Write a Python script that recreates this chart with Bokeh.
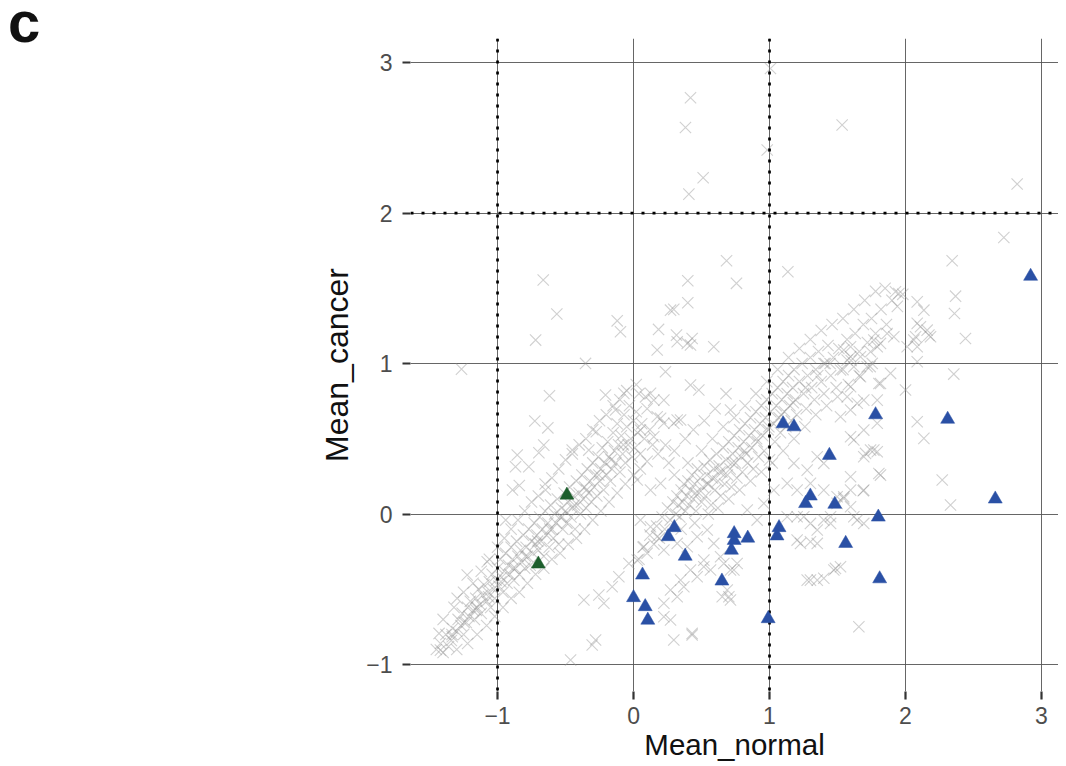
from bokeh.plotting import figure
from bokeh.models import Range1d, FixedTicker, Span, Div
from bokeh.layouts import row
from bokeh.embed import file_html
from bokeh.resources import INLINE

# ---------------- data ----------------
x_ticks = [-1, 0, 1, 2, 3]
y_ticks = [-1, 0, 1, 2, 3]
tick_labels = {-1: "\u22121", 0: "0", 1: "1", 2: "2", 3: "3"}
v_thresholds = [-1, 1]
h_thresholds = [2]
panel_letter = "c"

# grey "x" points: lower-left diagonal cloud
gray_band1 = [
    (-1.45, -0.90), (-1.42, -0.86), (-1.40, -0.92), (-1.38, -0.80), (-1.36, -0.88), (-1.34, -0.84), (-1.33, -0.76),
    (-1.30, -0.78), (-1.29, -0.70), (-1.27, -0.74), (-1.26, -0.66), (-1.25, -0.80), (-1.23, -0.72), (-1.22, -0.62),
    (-1.21, -0.68), (-1.20, -0.58), (-1.18, -0.64), (-1.17, -0.70), (-1.16, -0.56), (-1.15, -0.62), (-1.14, -0.50),
    (-1.13, -0.60), (-1.12, -0.66), (-1.11, -0.54), (-1.10, -0.47), (-1.08, -0.58), (-1.07, -0.52), (-1.06, -0.45),
    (-1.05, -0.62), (-1.04, -0.40), (-1.03, -0.50), (-1.02, -0.56), (-1.01, -0.44), (-1.00, -0.36), (-0.99, -0.48),
    (-0.98, -0.30), (-0.97, -0.42), (-0.96, -0.52), (-0.95, -0.38), (-0.94, -0.26), (-0.93, -0.46), (-0.92, -0.34),
    (-0.91, -0.40), (-0.90, -0.22), (-0.89, -0.30), (-0.88, -0.44), (-0.87, -0.36), (-0.86, -0.18), (-0.85, -0.28),
    (-0.84, -0.40), (-0.83, -0.24), (-0.82, -0.32), (-0.81, -0.14), (-0.80, -0.36), (-0.79, -0.22), (-0.78, -0.28),
    (-0.77, -0.10), (-0.76, -0.34), (-0.75, -0.18), (-0.74, -0.26), (-0.73, -0.06), (-0.72, -0.20), (-0.71, -0.14),
    (-0.70, -0.24), (-0.69, -0.02), (-0.68, -0.18), (-0.67, -0.10), (-0.66, -0.28), (-0.65, 0.02), (-0.64, -0.14),
    (-0.63, -0.06), (-0.62, -0.22), (-0.61, 0.06), (-0.60, -0.10), (-0.59, -0.16), (-0.58, 0.00), (-0.57, -0.06),
    (-0.56, 0.10), (-0.55, -0.20), (-0.54, -0.02), (-0.53, 0.04), (-0.52, -0.10), (-0.51, 0.14), (-0.50, 0.02),
    (-0.49, -0.06), (-0.48, 0.08), (-0.47, 0.18), (-0.46, -0.02), (-0.45, 0.04), (-0.44, 0.12), (-0.43, -0.10),
    (-0.42, 0.22), (-0.41, 0.06), (-0.40, 0.14), (-0.39, 0.00), (-0.38, 0.26), (-0.37, 0.10), (-0.36, 0.18),
    (-0.35, 0.04), (-0.34, 0.30), (-0.33, 0.14), (-0.32, 0.22), (-0.31, 0.08), (-0.30, 0.34), (-0.29, 0.18),
    (-0.28, 0.26), (-0.27, 0.12), (-0.26, 0.38), (-0.25, 0.22), (-0.24, 0.30), (-0.23, 0.44), (-0.22, 0.16),
    (-0.21, 0.34), (-0.20, 0.26), (-0.19, 0.48), (-0.18, 0.38), (-0.17, 0.22), (-0.16, 0.30), (-0.15, 0.54),
    (-0.14, 0.42), (-0.13, 0.34), (-0.12, 0.60), (-0.11, 0.46), (-0.10, 0.28), (-0.09, 0.52), (-0.08, 0.40),
    (-0.07, 0.66), (-0.06, 0.34), (-0.05, 0.58), (-0.04, 0.46), (-0.03, 0.72), (-0.02, 0.50), (-0.01, 0.38),
    (0.00, 0.62), (0.01, 0.44), (0.02, 0.68), (0.03, 0.54), (0.04, 0.80), (0.05, 0.40), (0.06, 0.60),
    (0.08, 0.50), (0.10, 0.70), (0.12, 0.56), (0.14, 0.46),
    # outer edges and core of the same cloud
    (-1.40, -0.70), (-1.32, -0.62), (-1.25, -0.52), (-1.18, -0.46), (-1.12, -0.38), (-1.06, -0.30), (-1.00, -0.22),
    (-0.95, -0.16), (-0.90, -0.10), (-0.85, -0.04), (-0.80, 0.02), (-0.75, 0.08), (-0.70, 0.12), (-0.65, 0.20),
    (-0.60, 0.24), (-0.55, 0.30), (-0.50, 0.36), (-0.45, 0.40), (-0.40, 0.46), (-0.35, 0.50), (-0.30, 0.56),
    (-0.25, 0.62), (-0.20, 0.66), (-0.15, 0.72), (-0.10, 0.76), (-0.05, 0.82), (0.02, 0.86),
    (-1.30, -0.90), (-1.22, -0.86), (-1.15, -0.80), (-1.08, -0.74), (-1.02, -0.68), (-0.96, -0.62), (-0.90, -0.56),
    (-0.84, -0.52), (-0.78, -0.46), (-0.72, -0.40), (-0.66, -0.36), (-0.60, -0.30), (-0.54, -0.26), (-0.48, -0.20),
    (-0.42, -0.16), (-0.36, -0.10), (-0.30, -0.04), (-0.24, 0.02), (-0.18, 0.08), (-0.12, 0.14), (-0.06, 0.20),
    (0.00, 0.26), (0.05, 0.30),
    (-1.335, -0.80), (-1.245, -0.72), (-1.155, -0.64), (-1.065, -0.55), (-0.975, -0.45), (-0.885, -0.36),
    (-0.795, -0.28), (-0.705, -0.18), (-0.615, -0.10), (-0.525, -0.02), (-0.435, 0.06), (-0.345, 0.16),
    (-0.255, 0.26), (-0.165, 0.36), (-0.075, 0.46),
]

# grey "x" points: second (right) diagonal cloud
gray_band2 = [
    (0.04, -0.30), (0.07, -0.22), (0.10, -0.26), (0.12, -0.14), (0.15, -0.20), (0.17, -0.08), (0.19, -0.16),
    (0.21, -0.02), (0.23, -0.10), (0.25, 0.04), (0.27, -0.04), (0.29, 0.08), (0.31, 0.00), (0.32, 0.12),
    (0.33, 0.06), (0.34, -0.02), (0.35, 0.16), (0.36, 0.08), (0.37, 0.20), (0.38, 0.02), (0.39, 0.12),
    (0.40, 0.22), (0.41, 0.06), (0.42, 0.16), (0.43, 0.26), (0.44, 0.10), (0.45, 0.20), (0.46, 0.02),
    (0.47, 0.30), (0.48, 0.14), (0.49, 0.24), (0.50, 0.08), (0.51, 0.18), (0.52, 0.32), (0.53, 0.12),
    (0.54, 0.26), (0.55, 0.20), (0.56, 0.36), (0.57, 0.06), (0.58, 0.24), (0.59, 0.30), (0.60, 0.16),
    (0.61, 0.40), (0.62, 0.22), (0.63, 0.32), (0.64, 0.12), (0.65, 0.28), (0.66, 0.44), (0.67, 0.20),
    (0.68, 0.36), (0.69, 0.26), (0.70, 0.48), (0.71, 0.30), (0.72, 0.18), (0.73, 0.40), (0.74, 0.52),
    (0.75, 0.34), (0.76, 0.24), (0.77, 0.44), (0.78, 0.56), (0.79, 0.38), (0.80, 0.28), (0.81, 0.48),
    (0.82, 0.60), (0.83, 0.40), (0.84, 0.34), (0.85, 0.52), (0.86, 0.64), (0.87, 0.44), (0.88, 0.30),
    (0.89, 0.56), (0.90, 0.68), (0.91, 0.48), (0.92, 0.38), (0.93, 0.60), (0.94, 0.72), (0.95, 0.52),
    (0.96, 0.42), (0.97, 0.64), (0.98, 0.76), (0.99, 0.56), (1.00, 0.36), (1.01, 0.68), (1.02, 0.80),
    (1.03, 0.60), (1.04, 0.48), (1.05, 0.72), (1.06, 0.84), (1.07, 0.64), (1.08, 0.54), (1.09, 0.76),
    (1.10, 0.88), (1.11, 0.68), (1.12, 0.58), (1.13, 0.80), (1.14, 0.92), (1.15, 0.72), (1.16, 0.62),
    (1.17, 0.84), (1.18, 0.96), (1.19, 0.76), (1.20, 0.66), (1.22, 0.88), (1.24, 1.00), (1.25, 0.80),
    (1.27, 0.70), (1.28, 0.92), (1.30, 1.04), (1.31, 0.84), (1.33, 0.76), (1.34, 0.96), (1.36, 1.08),
    (1.38, 0.88), (1.40, 0.80), (1.41, 1.00), (1.43, 1.12), (1.45, 0.92), (1.47, 1.04), (1.49, 0.84),
    (1.51, 1.10), (1.54, 0.96), (1.57, 1.16), (1.60, 1.02), (1.63, 1.20), (1.66, 1.08), (1.69, 1.26),
    (1.72, 1.14), (1.75, 1.30), (1.78, 1.20), (1.82, 1.36), (1.86, 1.26), (1.90, 1.42), (1.94, 1.38),
    (1.98, 1.46),
    # outer edges and core of the same cloud
    (0.30, 0.26), (0.40, 0.34), (0.50, 0.42), (0.58, 0.50), (0.66, 0.58), (0.74, 0.64), (0.82, 0.72),
    (0.90, 0.80), (0.98, 0.88), (1.06, 0.96), (1.14, 1.04), (1.22, 1.10), (1.30, 1.16), (1.38, 1.22),
    (1.46, 1.26), (1.54, 1.30), (1.62, 1.36), (1.70, 1.42), (1.78, 1.48), (1.85, 1.50),
    (0.35, -0.10), (0.45, -0.06), (0.55, 0.00), (0.62, 0.04), (0.70, 0.10), (0.78, 0.16), (0.86, 0.22),
    (0.94, 0.28), (1.02, 0.34), (1.10, 0.42), (1.18, 0.50), (1.26, 0.58), (1.34, 0.66), (1.42, 0.72),
    (1.50, 0.78), (1.58, 0.86), (1.66, 0.92), (1.74, 0.98),
    (0.455, 0.14), (0.545, 0.20), (0.635, 0.28), (0.725, 0.34), (0.815, 0.42), (0.905, 0.50), (0.995, 0.58),
    (1.085, 0.66), (1.175, 0.74), (1.265, 0.84), (1.355, 0.92), (1.445, 1.00),
]

# grey "x" points: scattered ones
gray_scatter = [
    (-0.664, 1.555), (-0.564, 1.329), (-0.12, 1.284), (-0.096, 1.211), (-0.72, 1.156), (-0.353, 1.001),
    (-1.265, 0.963), (-0.618, 0.786), (-0.206, 0.791), (-0.071, 0.802), (-0.132, 0.691), (-0.726, 0.618),
    (-0.63, 0.573), (-0.274, 0.547), (-0.855, 0.392), (-0.696, 0.407), (-0.66, 0.458), (-0.451, 0.425),
    (-0.329, 0.425), (-0.868, 0.314), (-0.77, 0.314), (-0.89, 0.16), (-0.84, 0.19), (-0.647, 0.16),
    (-0.94, -0.04), (-1.076, -0.317), (-1.223, -0.405), (-1.297, -0.56), (-1.43, -0.793), (-1.42, -0.904),
    (-1.333, -0.815), (-0.279, -0.837), (-0.304, -0.87), (-0.463, -0.97), (-0.365, -0.571), (-0.218, -0.593),
    (-0.255, -0.538), (-0.108, -0.416), (-0.034, -0.328), (-0.157, -0.483),
    (0.174, 1.09), (0.235, 0.946), (0.419, 0.857), (0.48, 0.824), (0.59, 1.112), (0.321, 1.145),
    (0.395, 1.134), (0.199, 0.636), (0.321, 0.625), (0.235, 0.458), (0.088, 0.779), (0.149, 0.757),
    (0.051, 0.558), (0.149, 0.514), (0.296, -0.837), (0.431, -0.793), (0.652, -0.549), (0.701, -0.549),
    (0.517, -0.306), (0.738, -0.372), (0.684, 1.683), (1.135, 1.61), (0.399, 1.55), (0.757, 1.533),
    (0.399, 1.404), (0.272, 1.355), (0.296, 1.36), (0.184, 1.227), (0.316, 1.189), (0.431, 1.167),
    (0.419, 1.123), (0.125, 0.802), (0.223, 0.757), (0.296, 0.603), (0.346, 0.625), (0.174, 0.647),
    (0.223, 0.603), (1.40, 1.0), (1.546, 1.09), (1.596, 1.045),
    (1.926, 1.477), (1.951, 1.466), (2.086, 1.41), (2.135, 1.355), (2.368, 1.448), (2.36, 1.333),
    (2.441, 1.167), (2.343, 1.683), (2.723, 1.838), (2.086, 1.267), (2.159, 1.222), (2.184, 1.178),
    (2.061, 1.156), (1.865, 1.2), (1.914, 1.178), (1.816, 1.134), (2.086, 1.112), (2.086, 1.012),
    (2.355, 0.93), (1.89, 0.935), (1.816, 0.868), (2.0, 0.824), (2.086, 0.613), (2.135, 0.503),
    (2.27, 0.226), (2.331, 0.06), (1.596, 0.514), (1.693, 0.558), (1.792, 0.603), (1.743, 0.425),
    (1.792, 0.414), (1.693, 0.381), (1.816, 0.259), (1.693, 0.159), (1.546, 0.115), (1.596, 0.159),
    (1.228, -0.195), (1.351, -0.195), (1.301, -0.439), (1.399, -0.427), (1.485, -0.361), (1.657, -0.749),
    (1.203, -0.018), (1.301, -0.062), (1.399, -0.04), (1.497, 0.071), (1.596, 0.049), (1.645, -0.04),
    (1.693, -0.062), (1.522, 0.647), (1.596, 0.691), (1.645, 0.736), (1.596, 0.248), (1.351, 0.381),
    (1.399, 0.337), (1.277, 0.292), (1.179, 0.337), (1.301, 0.204), (1.399, 0.159), (1.497, 0.115),
    (0.713, 0.691), (2.11, 1.245), (2.074, 1.178), (2.172, 1.189), (2.012, 1.112), (1.767, 1.156),
    (1.792, 1.112), (1.743, 1.079), (1.669, 1.045), (1.596, 1.112), (1.571, 1.023), (1.62, 0.979),
    (1.718, 0.979), (1.755, 1.001), (1.522, 0.957), (1.596, 0.846), (1.669, 0.913), (1.804, 0.868),
    (1.571, 0.779), (1.693, 0.757), (1.792, 0.757), (1.62, 0.492), (1.767, 0.425), (1.706, 0.403),
    (1.804, 0.27), (1.689, 0.155), (1.546, 0.104), (1.62, -0.018), (1.522, -0.35),
    (0.419, 2.766), (0.382, 2.569), (1.007, 2.961), (0.983, 2.419), (1.534, 2.585), (0.512, 2.235),
    (0.407, 2.126), (2.821, 2.193),
    (0.051, -0.04), (0.125, -0.084), (0.174, -0.151), (0.076, -0.217), (0.027, -0.306), (0.223, -0.239),
    (0.321, -0.195), (0.395, -0.217), (0.468, -0.151), (0.542, -0.106), (0.59, -0.195), (0.64, -0.284),
    (0.517, -0.35), (0.419, -0.372), (0.346, -0.439), (0.272, -0.505), (0.223, -0.593), (0.321, -0.549),
    (0.37, -0.483), (0.468, -0.416), (0.566, -0.372), (0.664, -0.328), (0.713, -0.372), (0.762, -0.328),
    (0.713, -0.571), (0.689, -0.505), (0.431, -0.804), (0.223, -0.682), (0.272, -0.704), (1.203, -0.173),
    (1.301, -0.184), (1.351, -0.106), (1.449, -0.062), (1.351, -0.439), (1.473, -0.372), (1.277, -0.439),
    (1.13, -0.018), (1.252, -0.018), (1.449, -0.018), (0.027, 0.226), (0.125, 0.159), (0.199, 0.204),
    (0.836, 0.027), (0.909, -0.04), (0.958, 0.071), (1.032, 0.159), (1.13, 0.204), (1.203, 0.159),
    (0.10, 0.35), (0.18, 0.40), (0.26, 0.34), (0.30, 0.42), (0.38, 0.50), (0.44, 0.56), (0.52, 0.62),
    (0.60, 0.70), (0.68, 0.80),
]

# blue triangles
blue_x = [2.92, 1.78, 2.31, 1.10, 1.18, 1.44, 1.30, 1.265, 1.48, 2.66, 1.80, 0.30, 0.255, 0.74,
          0.74, 0.72, 0.84, 1.07, 1.055, 1.56, 0.38, 0.066, 0.65, 0.0, 0.086, 0.105, 0.99, 1.81]
blue_y = [1.58, 0.66, 0.63, 0.60, 0.58, 0.39, 0.12, 0.07, 0.065, 0.10, -0.02, -0.09, -0.15, -0.13,
          -0.175, -0.24, -0.16, -0.09, -0.145, -0.195, -0.28, -0.405, -0.445, -0.555, -0.615, -0.705, -0.695, -0.43]

# green triangles
green_x = [-0.49, -0.70]
green_y = [0.126, -0.332]

# ---------------- plot ----------------
FONT = "Liberation Sans"
gray_pts = gray_band1 + gray_band2 + gray_scatter
gx = [p[0] for p in gray_pts]
gy = [p[1] for p in gray_pts]

LETTER_W = 60
p = figure(
    frame_width=648, frame_height=653,
    x_range=Range1d(-1.64, 3.125), y_range=Range1d(-1.179, 3.16),
    output_backend="svg", toolbar_location=None,
    min_border_left=410 - LETTER_W, min_border_top=38, min_border_right=0, min_border_bottom=66,
)
p.outline_line_color = None
p.background_fill_color = "white"
p.border_fill_color = "white"

for ax, ticks in ((p.xaxis[0], x_ticks), (p.yaxis[0], y_ticks)):
    ax.ticker = FixedTicker(ticks=ticks)
    ax.major_label_overrides = tick_labels
    ax.axis_line_color = None
    ax.minor_tick_line_color = None
    ax.major_tick_in = 0
    ax.major_tick_out = 8
    ax.major_tick_line_width = 2.2
    ax.major_tick_line_color = "#333333"
    ax.major_label_text_font = FONT
    ax.major_label_text_font_size = "23px"
    ax.major_label_text_color = "#4d4d4d"
    ax.axis_label_text_font = FONT
    ax.axis_label_text_font_style = "normal"
    ax.axis_label_text_color = "#111111"

p.xaxis.axis_label = "Mean_normal"
p.yaxis.axis_label = "Mean_cancer"
p.xaxis.axis_label_text_font_size = "29.5px"
p.yaxis.axis_label_text_font_size = "32px"
p.xaxis.major_label_standoff = 7
p.yaxis.major_label_standoff = 10
p.xaxis.axis_label_standoff = 1
p.yaxis.axis_label_standoff = 8

p.xgrid.ticker = FixedTicker(ticks=x_ticks)
p.ygrid.ticker = FixedTicker(ticks=y_ticks)
for g in (p.xgrid[0], p.ygrid[0]):
    g.grid_line_color = "#555555"
    g.grid_line_width = 0.9

p.scatter(gx, gy, marker="x", size=16, line_color="#959595", line_alpha=0.44, line_width=1.1)

for v in v_thresholds:
    p.add_layout(Span(location=v, dimension="height", line_color="black",
                      line_width=2.7, line_dash="3 8"))
for h in h_thresholds:
    p.add_layout(Span(location=h, dimension="width", line_color="black",
                      line_width=2.7, line_dash="3 8"))

r1 = p.scatter(blue_x, blue_y, marker="triangle", size=14,
               fill_color="#2a50a5", line_color="#2a50a5", line_width=0.5)
r2 = p.scatter(green_x, green_y, marker="triangle", size=14,
               fill_color="#1c5e2c", line_color="#1c5e2c", line_width=0.5)
r1.level = "overlay"
r2.level = "overlay"

letter = Div(
    text=('<span style="position:relative; display:inline-block; top:0px; left:8px; '
          "font-family:'Liberation Sans'; font-size:58px; font-weight:bold; "
          'line-height:44px; height:44px; color:#111111;">' + panel_letter + '</span>'),
    width=LETTER_W, height=50, margin=0,
)

layout = row(letter, p)
open("out.html", "w").write(file_html(layout, INLINE))
